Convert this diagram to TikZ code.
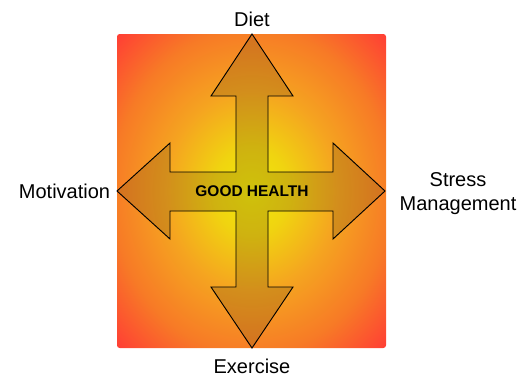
\documentclass[tikz,border=0pt]{standalone}
\usepackage{fontspec}
\setmainfont{Liberation Sans}
\usepackage{tikz}
\usetikzlibrary{positioning}
\definecolor{BgCore}{HTML}{F0E80A}
\definecolor{BgInner}{HTML}{F0D410}
\definecolor{BgMid}{HTML}{F5A420}
\definecolor{BgEdge}{HTML}{F77A26}
\definecolor{BgCorner}{HTML}{FF4034}
\definecolor{ArrowTint}{HTML}{6A4A10}
\pgfdeclareradialshading{healthbg}{\pgfpoint{0bp}{0bp}}{color(0bp)=(BgCore); color(7bp)=(BgInner); color(16bp)=(BgMid); color(26bp)=(BgEdge); color(35bp)=(BgCorner); color(50bp)=(BgCorner)}

\begin{document}
\begin{tikzpicture}[
	x=0.75pt, y=-0.75pt,
	node distance=2pt and 4pt,
	label/.style={font=\fontsize{15}{18}\selectfont, inner sep=1pt, align=center},
	cross/.style={draw=black, line width=0.7pt, line join=miter, fill=ArrowTint, fill opacity=0.24}
]
\useasboundingbox (0,0) rectangle (517,379);
\shade[shading=healthbg, rounded corners=2pt] (117,34) rectangle (386,348);

% four way arrow
\draw[cross] (252,34) -- (293,96) -- (268,96) -- (268,172) -- (333,172) -- (333,143)
	-- (385,191) -- (333,239) -- (333,211) -- (268,211) -- (268,287) -- (293,287)
	-- (252,348) -- (211,287) -- (236,287) -- (236,211) -- (170,211) -- (170,239)
	-- (117,191) -- (170,143) -- (170,172) -- (236,172) -- (236,96) -- (211,96) -- cycle;

\coordinate (up) at (252,34);
\coordinate (down) at (252,348);
\coordinate (left) at (117,191);
\coordinate (right) at (385,191);

\node[font=\fontsize{11.6}{14}\bfseries, inner sep=0pt] (core) at (252,191) {GOOD HEALTH};
\node[label, above=of up, yshift=2pt] (diet) {Diet};
\node[label, below=of down, yshift=-5pt] (exercise) {Exercise};
\node[label, left=of left] (motivation) {Motivation};
\node[label] (stress) at (458,194) {Stress\\Management};
\end{tikzpicture}
\end{document}
